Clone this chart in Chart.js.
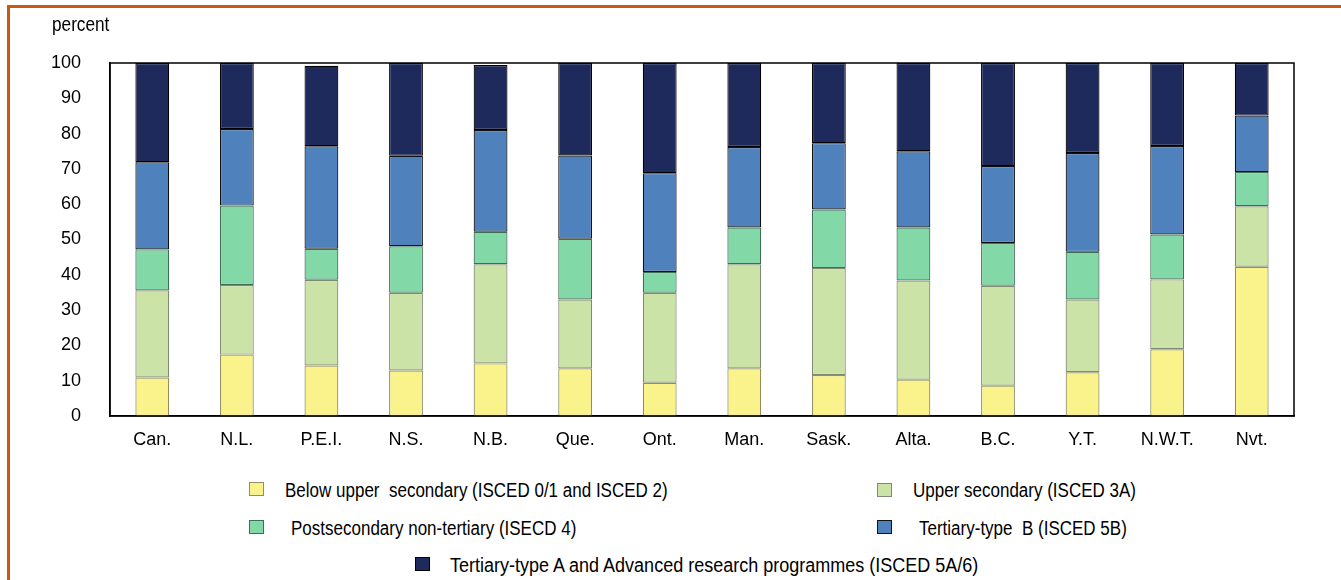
<!DOCTYPE html>
<html>
<head>
<meta charset="utf-8">
<script src="https://cdn.jsdelivr.net/npm/chart.js@4.4.1/dist/chart.umd.min.js"></script>
<style>
  body { margin: 0; background: #fff; }
  #wrap { position: relative; width: 1341px; height: 580px; overflow: hidden;
          font-family: 'Liberation Sans', Arial, sans-serif; color: #000; }
  #frame { position: absolute; left: 7px; top: 5px; width: 1400px; height: 700px;
           border-left: 3px solid #c55a11; border-top: 3px solid #c55a11; }
  #chart { position: absolute; left: 0; top: 0; }
  #unit { position: absolute; left: 52px; top: 14px; font-size: 20px; line-height: 20px;
          transform: scaleX(0.86); transform-origin: left center; }
  .item { position: absolute; font-size: 20px; line-height: 20px; white-space: nowrap;
          transform: scaleX(0.85); transform-origin: left center; }
  .item.wide { transform: scaleX(0.9); }
  .box { position: absolute; width: 13px; height: 12px; border: 1.5px solid; }
</style>
</head>
<body>
<div id="wrap">
  <div id="frame"></div>
  <canvas id="chart" width="1341" height="460"></canvas>
  <div id="unit">percent</div>
  <div id="legend"></div>
</div>
<script>
    'use strict';
    const regions = ['Can.', 'N.L.', 'P.E.I.', 'N.S.', 'N.B.', 'Que.', 'Ont.', 'Man.', 'Sask.', 'Alta.', 'B.C.', 'Y.T.', 'N.W.T.', 'Nvt.'];
    const belowUpperSec = [10.9, 17.4, 14.3, 12.9, 14.9, 13.5, 9.4, 13.5, 11.6, 10.3, 8.6, 12.4, 18.9, 42.3];
    const upperSec      = [24.7, 19.7, 24.3, 22.0, 28.1, 19.5, 25.5, 29.5, 30.3, 28.1, 28.3, 20.6, 19.8, 17.1];
    const postSecNonTer = [11.6, 22.5, 8.8, 13.2, 9.2, 17.2, 5.9, 10.4, 16.6, 15.0, 12.1, 13.5, 12.7, 9.7];
    const tertiaryB     = [24.7, 21.7, 29.0, 25.6, 28.8, 23.6, 28.0, 22.8, 18.8, 21.6, 21.8, 28.0, 25.1, 16.0];
    const tertiaryA     = [28.1, 18.7, 22.8, 26.3, 18.4, 26.2, 31.2, 23.8, 22.7, 25.0, 29.2, 25.5, 23.5, 14.9];
    const yTicks = [0, 10, 20, 30, 40, 50, 60, 70, 80, 90, 100];

    const series = [
        { label: 'Below upper  secondary (ISCED 0/1 and ISCED 2)', data: belowUpperSec, fill: '#faf28a', edge: '#8f8f62' },
        { label: 'Upper secondary (ISCED 3A)', data: upperSec, fill: '#cce3a8', edge: '#7f8a74' },
        { label: 'Postsecondary non-tertiary (ISECD 4)', data: postSecNonTer, fill: '#82d8a6', edge: '#3f6e55' },
        { label: 'Tertiary-type  B (ISCED 5B)', data: tertiaryB, fill: '#4f81bd', edge: '#111111' },
        { label: 'Tertiary-type A and Advanced research programmes (ISCED 5A/6)', data: tertiaryA, fill: '#1f2a5c', edge: '#000000' }
    ];

    const font = { family: "'Liberation Sans', Arial, sans-serif", size: 18 };

    let frameBox = {
        id: 'frameBox',
        afterDraw(chart) {
            let a = chart.chartArea, ctx = chart.ctx;
            ctx.save();
            ctx.strokeStyle = '#000';
            ctx.lineWidth = 1.5;
            ctx.strokeRect(a.left, a.top, a.right - a.left, a.bottom - a.top);
            ctx.restore();
        }
    };

    let chart = new Chart(document.getElementById('chart'), {
        type: 'bar',
        data: {
            labels: regions,
            datasets: series.map(s => ({
                label: s.label,
                data: s.data,
                backgroundColor: s.fill,
                borderColor: s.edge,
                borderWidth: 1.2,
                borderSkipped: false,
                categoryPercentage: 0.4,
                barPercentage: 1.0
            }))
        },
        options: {
            responsive: false,
            devicePixelRatio: 1,
            animation: false,
            layout: { padding: { top: 63, right: 47, left: 0, bottom: 0 } },
            plugins: { legend: { display: false }, tooltip: { enabled: false } },
            scales: {
                x: {
                    stacked: true,
                    grid: { display: false },
                    border: { display: true, color: '#000', width: 1.5 },
                    ticks: { font: font, color: '#000', padding: 5, maxRotation: 0 },
                    afterFit: s => { s.height = 44; }
                },
                y: {
                    stacked: true,
                    min: 0,
                    max: 100,
                    afterBuildTicks: s => { s.ticks = yTicks.map(v => ({ value: v })); },
                    grid: { display: false, drawTicks: false },
                    border: { display: true, color: '#000', width: 1.5 },
                    ticks: { font: font, color: '#000', padding: 29 },
                    afterFit: s => { s.width = 110; }
                }
            }
        },
        plugins: [frameBox]
    });

    // legend laid out like the original: two columns, last item centred
    let slots = [
        { box: [249, 482], text: [285, 480] },
        { box: [877, 483], text: [913, 480] },
        { box: [249, 520], text: [291, 518] },
        { box: [877, 520], text: [919, 518] },
        { box: [415, 557], text: [450, 555], wide: true }
    ];
    let legend = document.getElementById('legend');
    chart.data.datasets.forEach((ds, i) => {
        let b = document.createElement('div');
        b.className = 'box';
        b.style.left = slots[i].box[0] + 'px';
        b.style.top = slots[i].box[1] + 'px';
        b.style.background = ds.backgroundColor;
        b.style.borderColor = ds.borderColor;
        legend.appendChild(b);
        let t = document.createElement('div');
        t.className = slots[i].wide ? 'item wide' : 'item';
        t.style.left = slots[i].text[0] + 'px';
        t.style.top = slots[i].text[1] + 'px';
        t.style.whiteSpace = 'pre';
        t.textContent = ds.label;
        legend.appendChild(t);
    });
</script>
</body>
</html>
